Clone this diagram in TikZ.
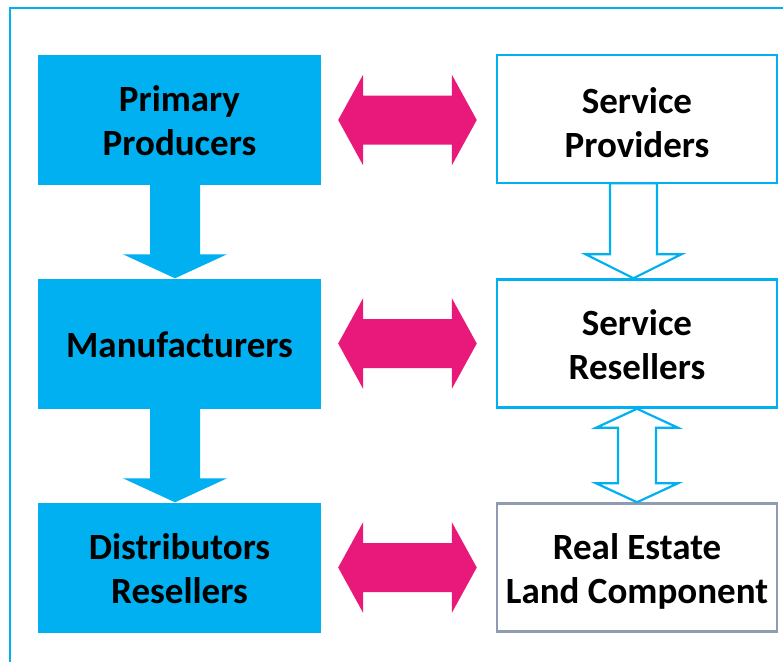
\documentclass[tikz,border=0pt]{standalone}
\usepackage{fontspec}
\setmainfont{Carlito}
\usetikzlibrary{calc}

\definecolor{skyfill}{HTML}{00B0F0}
\definecolor{magentafill}{HTML}{E9197C}
\definecolor{slateline}{HTML}{8E9BB0}

% first line of a label with extra room above it, lowering the whole text by half of #1
\newcommand\padtop[2]{\raisebox{0pt}[\dimexpr\height+#1\relax]{#2}}

% vertical block arrow: #1 style, #2 top centre, #3 tip, #4 shaft half width, #5 head half width, #6 head length
\newcommand\downblock[6]{%
  \path[#1] let \p1=(#2), \p2=(#3) in
    (\x1-#4,\y1) -- (\x1-#4,\y2+#6) -- (\x1-#5,\y2+#6) -- (\x1,\y2)
    -- (\x1+#5,\y2+#6) -- (\x1+#4,\y2+#6) -- (\x1+#4,\y1) -- cycle;}

% horizontal double block arrow between two tips
\newcommand\hdoubleblock[6]{%
  \path[#1] let \p1=(#2), \p2=(#3) in
    (\x1,\y1) -- (\x1+#6,\y1+#5) -- (\x1+#6,\y1+#4) -- (\x2-#6,\y1+#4)
    -- (\x2-#6,\y1+#5) -- (\x2,\y1) -- (\x2-#6,\y1-#5) -- (\x2-#6,\y1-#4)
    -- (\x1+#6,\y1-#4) -- (\x1+#6,\y1-#5) -- cycle;}

% vertical double block arrow between two tips
\newcommand\vdoubleblock[6]{%
  \path[#1] let \p1=(#2), \p2=(#3) in
    (\x1,\y1) -- (\x1+#5,\y1-#6) -- (\x1+#4,\y1-#6) -- (\x1+#4,\y2+#6)
    -- (\x1+#5,\y2+#6) -- (\x1,\y2) -- (\x1-#5,\y2+#6) -- (\x1-#4,\y2+#6)
    -- (\x1-#4,\y1-#6) -- (\x1-#5,\y1-#6) -- cycle;}

\tikzset{
  filledbox/.style={rectangle, fill=skyfill, minimum width=283pt, minimum height=130pt,
    inner sep=0pt, align=center, font=\fontsize{37}{44}\selectfont\bfseries},
  openbox/.style={rectangle, draw=skyfill, line width=2.5pt, fill=white, minimum width=280pt,
    minimum height=128pt, inner sep=0pt, align=center, font=\fontsize{37}{44}\selectfont\bfseries},
  solidarrow/.style={fill=skyfill},
  pinkarrow/.style={fill=magentafill},
  hollowarrow/.style={draw=skyfill, fill=white, line width=2.2pt, line join=miter},
  frameline/.style={draw=skyfill, line width=2.2pt}
}

\begin{document}
\begin{tikzpicture}[x=1pt, y=-1pt]
  \useasboundingbox (0,0) rectangle (783,661);
  \clip (0,0) rectangle (783,661);
  \fill[white] (0,0) rectangle (783,661);

  % outer frame, running past the right and lower edges
  \draw[frameline] (10,8) rectangle (800,680);

  % supply chain, left column
  \node[filledbox] (pp) at (179.5,120)   {\padtop{2pt}{Primary}\\Producers};
  \node[filledbox] (mf) at (179.5,343.5) {\padtop{2pt}{Manufacturers}};
  \node[filledbox] (dr) at (179.5,567.5) {\padtop{2pt}{Distributors}\\Resellers};

  % service side, right column
  \node[openbox] (sp) at (637,119)   {\padtop{7pt}{Service}\\Providers};
  \node[openbox] (sr) at (637,343.5) {\padtop{2pt}{Service}\\Resellers};
  \node[openbox, draw=slateline] (re) at (637,567.5) {\padtop{8pt}{Real Estate}\\Land Component};

  % solid downward arrows
  \downblock{solidarrow}{$(pp.south)+(-4.5,0)$}{$(mf.north)+(-4.5,0)$}{25pt}{52pt}{24pt}
  \downblock{solidarrow}{$(mf.south)+(-4.5,0)$}{$(dr.north)+(-4.5,0)$}{25pt}{52pt}{24pt}

  % links between the two columns
  \hdoubleblock{pinkarrow}{$(pp.east)+(17,0)$}{$(sp.west|-pp.east)+(-19,0)$}{24.5pt}{45.5pt}{25pt}
  \hdoubleblock{pinkarrow}{$(mf.east)+(17,0)$}{$(sr.west|-mf.east)+(-19,0)$}{24.5pt}{45.5pt}{25pt}
  \hdoubleblock{pinkarrow}{$(dr.east)+(17,0)$}{$(re.west|-dr.east)+(-19,0)$}{24.5pt}{45.5pt}{25pt}

  % hollow arrows in the right column
  \downblock{hollowarrow}{$(sp.south)+(-3.5,-1)$}{$(sr.north)+(-3.5,0)$}{23.5pt}{48pt}{24pt}
  \vdoubleblock{hollowarrow}{sr.south}{re.north}{19pt}{41pt}{19pt}
\end{tikzpicture}
\end{document}
